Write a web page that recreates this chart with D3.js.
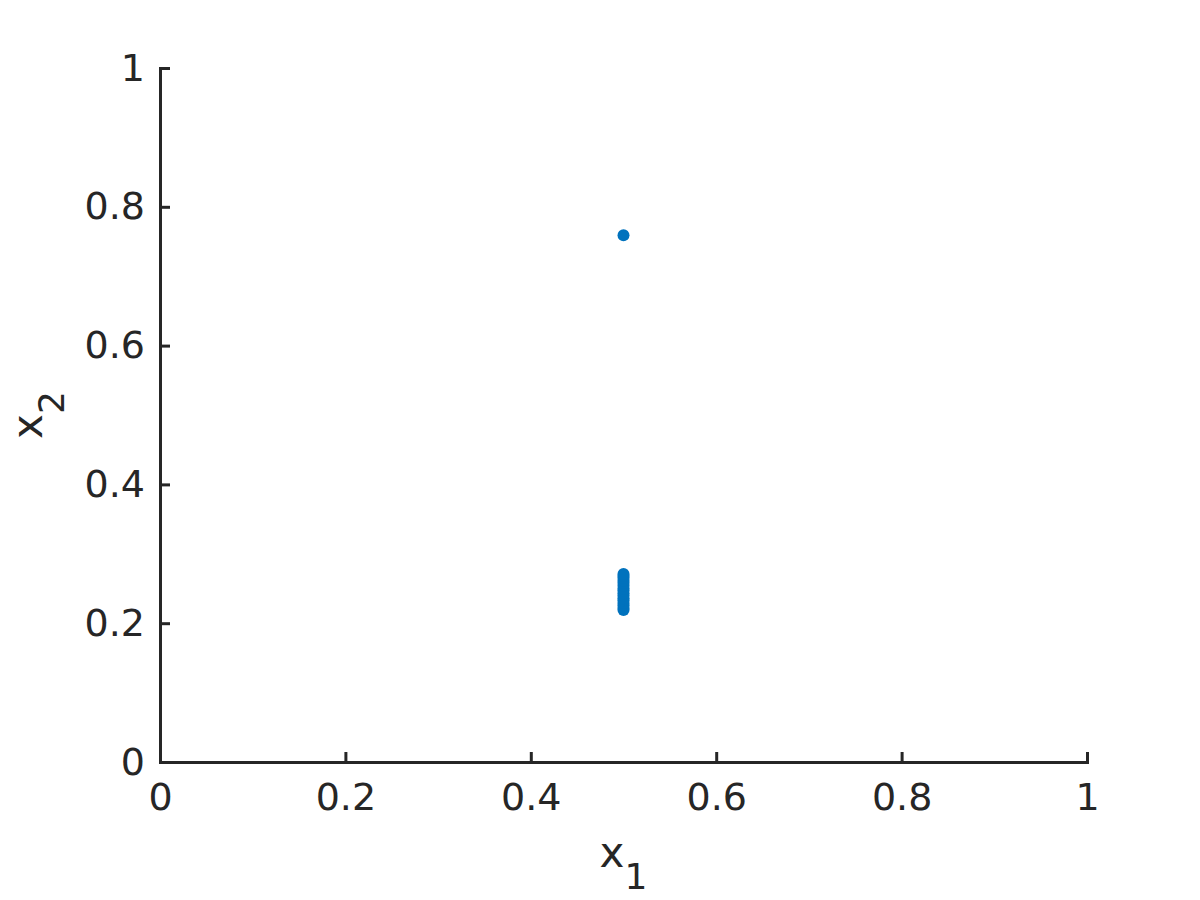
<!DOCTYPE html>
<html>
<head>
<meta charset="utf-8">
<script src="https://cdn.jsdelivr.net/npm/d3@7"></script>
<style>
  body { margin: 0; background: #fff; }
  svg text { font-family: "DejaVu Sans", sans-serif; }
</style>
</head>
<body>
<svg id="chart" width="1200" height="900"></svg>
<script>
// data
const x1Values = [0.5, 0.5, 0.5, 0.5, 0.5, 0.5, 0.5, 0.5, 0.5, 0.5, 0.5, 0.5, 0.5, 0.5, 0.5, 0.5, 0.5];
const x2Values = [0.219, 0.222, 0.226, 0.229, 0.233, 0.236, 0.240, 0.243, 0.247, 0.250, 0.254, 0.258, 0.261, 0.265, 0.268, 0.271, 0.759];
const tickValues = [0, 0.2, 0.4, 0.6, 0.8, 1];
const tickLabels = ["0", "0.2", "0.4", "0.6", "0.8", "1"];

const points = x1Values.map((x, i) => ({ x: x, y: x2Values[i] }));

const margin = { left: 160, top: 68, right: 113, bottom: 138 };
const width = 1200 - margin.left - margin.right;
const height = 900 - margin.top - margin.bottom;
const ink = "#262626";

const svg = d3.select("#chart");
const g = svg.append("g").attr("transform", `translate(${margin.left},${margin.top})`);

const xScale = d3.scaleLinear().domain([0, 1]).range([0, width]);
const yScale = d3.scaleLinear().domain([0, 1]).range([height, 0]);

const fmt = d => tickLabels[tickValues.indexOf(d)];

// axes with ticks pointing inward, like matlab
const xAxis = g.append("g")
    .attr("transform", `translate(0,${height})`)
    .call(d3.axisBottom(xScale).tickValues(tickValues).tickFormat(fmt)
        .tickSizeInner(-10).tickSizeOuter(0).tickPadding(21));

const yAxis = g.append("g")
    .call(d3.axisLeft(yScale).tickValues(tickValues).tickFormat(fmt)
        .tickSizeInner(-10).tickSizeOuter(0).tickPadding(15));

[xAxis, yAxis].forEach(ax => {
    ax.attr("font-family", null);
    ax.select(".domain").attr("stroke", ink).attr("stroke-width", 3).attr("stroke-linecap", "square");
    ax.selectAll(".tick line").attr("stroke", ink).attr("stroke-width", 3);
    ax.selectAll(".tick text").attr("fill", ink)
        .style("font-family", "'DejaVu Sans', sans-serif")
        .style("font-size", "38px");
});
xAxis.selectAll(".tick text").attr("dy", "0.71em");

// points
g.selectAll(".point")
    .data(points)
    .enter()
    .append("circle")
    .attr("class", "point")
    .attr("cx", d => xScale(d.x))
    .attr("cy", d => yScale(d.y))
    .attr("r", 6)
    .style("fill", "#0072BD");

// axis labels
const xLabel = svg.append("text")
    .attr("x", margin.left + width / 2)
    .attr("y", 867)
    .attr("text-anchor", "middle")
    .attr("fill", ink)
    .style("font-size", "42px");
xLabel.append("tspan").text("x");
xLabel.append("tspan").attr("dy", 22).style("font-size", "36px").text("1");

const yLabel = svg.append("text")
    .attr("transform", `translate(42,${margin.top + height / 2}) rotate(-90)`)
    .attr("text-anchor", "middle")
    .attr("fill", ink)
    .style("font-size", "42px");
yLabel.append("tspan").text("x");
yLabel.append("tspan").attr("dy", 22).style("font-size", "36px").text("2");
</script>
</body>
</html>
